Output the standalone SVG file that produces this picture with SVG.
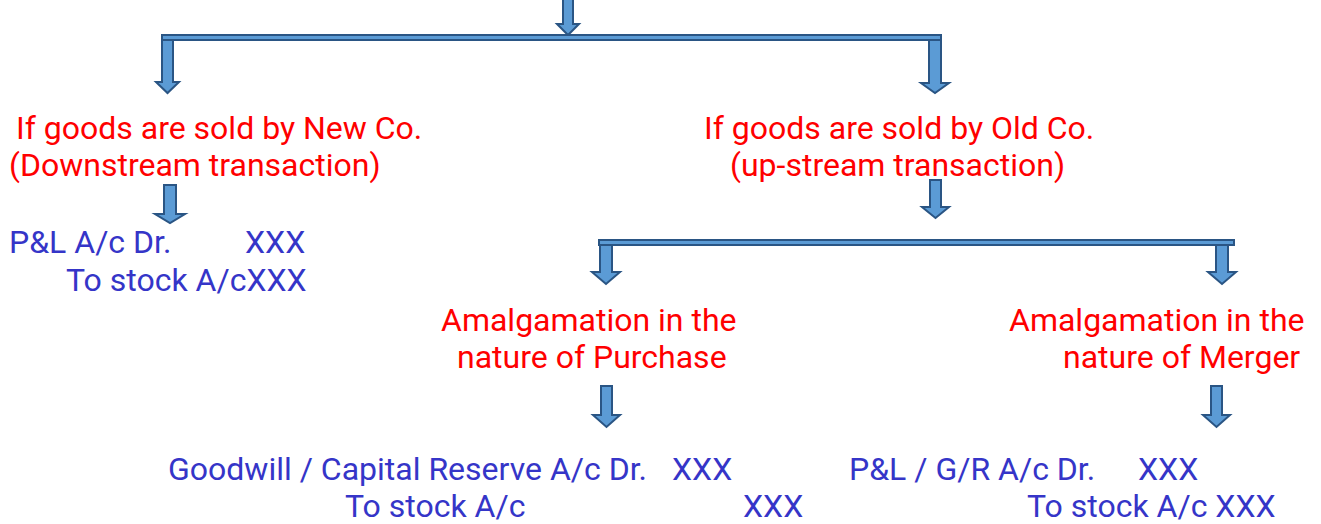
<svg xmlns="http://www.w3.org/2000/svg" width="1321" height="524" viewBox="0 0 1321 524">
  <style>
    .hd { font-family: Roboto, "Liberation Sans", sans-serif; font-size: 32px; fill: #FF0000; }
    .je { font-family: Roboto, "Liberation Sans", sans-serif; font-size: 32px; fill: #3535C8; }
    .ar { fill: #5B9BD5; stroke: #2A5584; stroke-width: 2; stroke-linejoin: miter; }
  </style>
  <rect width="1321" height="524" fill="#FFFFFF"/>

  <g id="connectors">
    <!-- top split -->
    <polygon class="ar" points="563,-4 573,-4 573,24 579,24 568,35 557,24 563,24"/>
    <rect class="ar" x="162" y="35" width="779" height="5"/>
    <polygon class="ar" points="162,40 173,40 173,82 179,82 167.5,93 156,82 162,82"/>
    <polygon class="ar" points="929,40 941,40 941,83 949,83 935,93 921,83 929,83"/>
    <!-- downstream -->
    <polygon class="ar" points="164,185 176,185 176,214 185,214 170,223 155,214 164,214"/>
    <!-- up-stream -->
    <polygon class="ar" points="930,180 941,180 941,207 949,207 935.5,218 922,207 930,207"/>
    <rect class="ar" x="599" y="240" width="635" height="5"/>
    <polygon class="ar" points="600,245 612,245 612,272 620,272 606,284 592,272 600,272"/>
    <polygon class="ar" points="1216,245 1228,245 1228,272 1236,272 1222,284 1208,272 1216,272"/>
    <!-- purchase / merger -->
    <polygon class="ar" points="601,386 612,386 612,415 620,415 606.5,427 593,415 601,415"/>
    <polygon class="ar" points="1211,386 1222,386 1222,415 1230,415 1216.5,427 1203,415 1211,415"/>
  </g>

  <g id="node-new-co">
    <text class="hd" x="16" y="139">If goods are sold by New Co.</text>
    <text class="hd" x="9" y="176">(Downstream transaction)</text>
  </g>
  <g id="node-old-co">
    <text class="hd" x="704" y="139">If goods are sold by Old Co.</text>
    <text class="hd" x="730" y="176">(up-stream transaction)</text>
  </g>
  <g id="node-entry-downstream">
    <text class="je" x="9" y="253">P&amp;L A/c Dr.</text>
    <text class="je" x="245" y="253">XXX</text>
    <text class="je" x="66" y="291">To stock A/cXXX</text>
  </g>
  <g id="node-purchase">
    <text class="hd" x="441" y="331">Amalgamation in the</text>
    <text class="hd" x="457" y="368">nature of Purchase</text>
  </g>
  <g id="node-merger">
    <text class="hd" x="1009" y="331">Amalgamation in the</text>
    <text class="hd" x="1063" y="368">nature of Merger</text>
  </g>
  <g id="node-entry-purchase">
    <text class="je" x="168" y="480">Goodwill / Capital Reserve A/c Dr.</text>
    <text class="je" x="672" y="480">XXX</text>
    <text class="je" x="345" y="517">To stock A/c</text>
    <text class="je" x="743" y="517">XXX</text>
  </g>
  <g id="node-entry-merger">
    <text class="je" x="849" y="480">P&amp;L / G/R A/c Dr.</text>
    <text class="je" x="1138" y="480">XXX</text>
    <text class="je" x="1027" y="517">To stock A/c XXX</text>
  </g>
</svg>
